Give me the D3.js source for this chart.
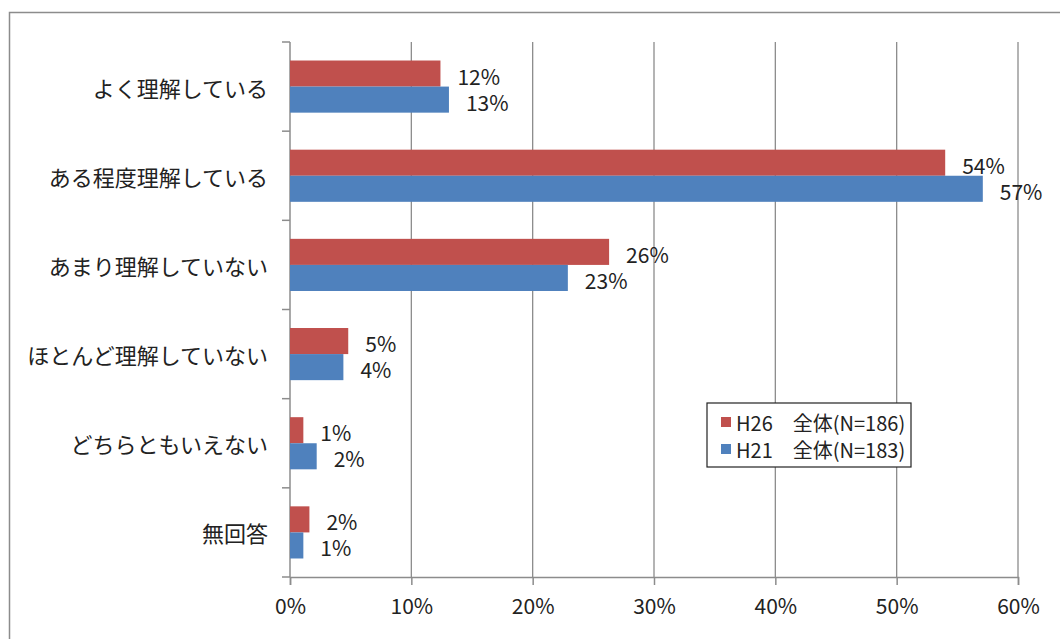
<!DOCTYPE html>
<html>
<head>
<meta charset="utf-8">
<script src="https://cdn.jsdelivr.net/npm/d3@7"></script>
<style>
  body { margin: 0; background: #fff; }
  text { font-family: "Noto Sans CJK JP", "Noto Sans", sans-serif; fill: #222; }
</style>
</head>
<body>
<script>
// categories, top to bottom
const categories = ["よく理解している", "ある程度理解している", "あまり理解していない",
  "ほとんど理解していない", "どちらともいえない", "無回答"];
const seriesNames = ["H26　全体(N=186)", "H21　全体(N=183)"];
const h26 = [12.4, 54.0, 26.3, 4.8, 1.1, 1.6];
const h21 = [13.1, 57.1, 22.9, 4.4, 2.2, 1.1];
const xTicks = [0, 10, 20, 30, 40, 50, 60];
const colors = ["#c0504d", "#4f81bd"];

const w = 1060, h = 639;
const plotLeft = 290, plotRight = 1018, plotTop = 42, plotBottom = 577;

const svg = d3.select("body").append("svg").attr("width", w).attr("height", h);

// outer frame
svg.append("rect")
  .attr("x", 9.5).attr("y", 12.5)
  .attr("width", 1100).attr("height", 700)
  .attr("fill", "none").attr("stroke", "#8c8c8c").attr("stroke-width", 1.5);

const x = d3.scaleLinear().domain([0, 60]).range([plotLeft, plotRight]);
const y = d3.scaleBand().domain(categories).range([plotTop, plotBottom]);
const inner = d3.scaleBand().domain([0, 1]).range([0, y.bandwidth()]).paddingOuter(0.71);

// gridlines
svg.append("g").selectAll("line").data(xTicks.slice(1)).enter().append("line")
  .attr("x1", (d) => x(d)).attr("x2", (d) => x(d))
  .attr("y1", plotTop).attr("y2", plotBottom)
  .attr("stroke", "#8c8c8c").attr("stroke-width", 1.3);

// x axis
const xAxis = svg.append("g").attr("transform", `translate(0,${plotBottom})`)
  .call(d3.axisBottom(x).tickValues(xTicks).tickSize(8).tickPadding(14).tickFormat((d) => d + "%"));
xAxis.select(".domain").attr("stroke", "#8c8c8c").attr("stroke-width", 1.5);
xAxis.selectAll(".tick line").attr("stroke", "#8c8c8c").attr("stroke-width", 1.5);
xAxis.selectAll(".tick text").attr("font-size", 21).attr("fill", "#222")
  .attr("font-family", "'Noto Sans CJK JP', sans-serif");

// y axis with ticks at band boundaries
const yg = svg.append("g");
yg.append("line").attr("x1", plotLeft).attr("x2", plotLeft).attr("y1", plotTop).attr("y2", plotBottom)
  .attr("stroke", "#8c8c8c").attr("stroke-width", 1.5);
const bounds = categories.map((c) => y(c)).concat([plotBottom]);
yg.selectAll(".yt").data(bounds).enter().append("line")
  .attr("x1", plotLeft - 8).attr("x2", plotLeft)
  .attr("y1", (d) => d).attr("y2", (d) => d)
  .attr("stroke", "#8c8c8c").attr("stroke-width", 1.5);
yg.selectAll(".yl").data(categories).enter().append("text")
  .attr("x", 268).attr("y", (d) => y(d) + y.bandwidth() / 2)
  .attr("text-anchor", "end").attr("dominant-baseline", "central")
  .attr("font-size", 22).text((d) => d);

// bars
const series = [h26, h21];
series.forEach((vals, s) => {
  const g = svg.append("g");
  g.selectAll("rect").data(vals).enter().append("rect")
    .attr("x", x(0))
    .attr("y", (d, i) => y(categories[i]) + inner(s))
    .attr("width", (d) => x(d) - x(0))
    .attr("height", inner.bandwidth())
    .attr("fill", colors[s]);
  g.selectAll("text").data(vals).enter().append("text")
    .attr("x", (d) => x(d) + 17)
    .attr("y", (d, i) => y(categories[i]) + inner(s) + inner.bandwidth() / 2 + 2)
    .attr("dominant-baseline", "central")
    .attr("font-size", 21)
    .text((d) => Math.round(d) + "%");
});

// legend
const lg = svg.append("g").attr("transform", "translate(707,403)");
lg.append("rect").attr("width", 204).attr("height", 64)
  .attr("fill", "#fff").attr("stroke", "#222").attr("stroke-width", 1.2);
seriesNames.forEach((name, i) => {
  lg.append("rect").attr("x", 14).attr("y", 14 + i * 27).attr("width", 10).attr("height", 10)
    .attr("fill", colors[i]);
  lg.append("text").attr("x", 29).attr("y", 19 + i * 27)
    .attr("dominant-baseline", "central").attr("font-size", 20).text(name);
});
</script>
</body>
</html>
